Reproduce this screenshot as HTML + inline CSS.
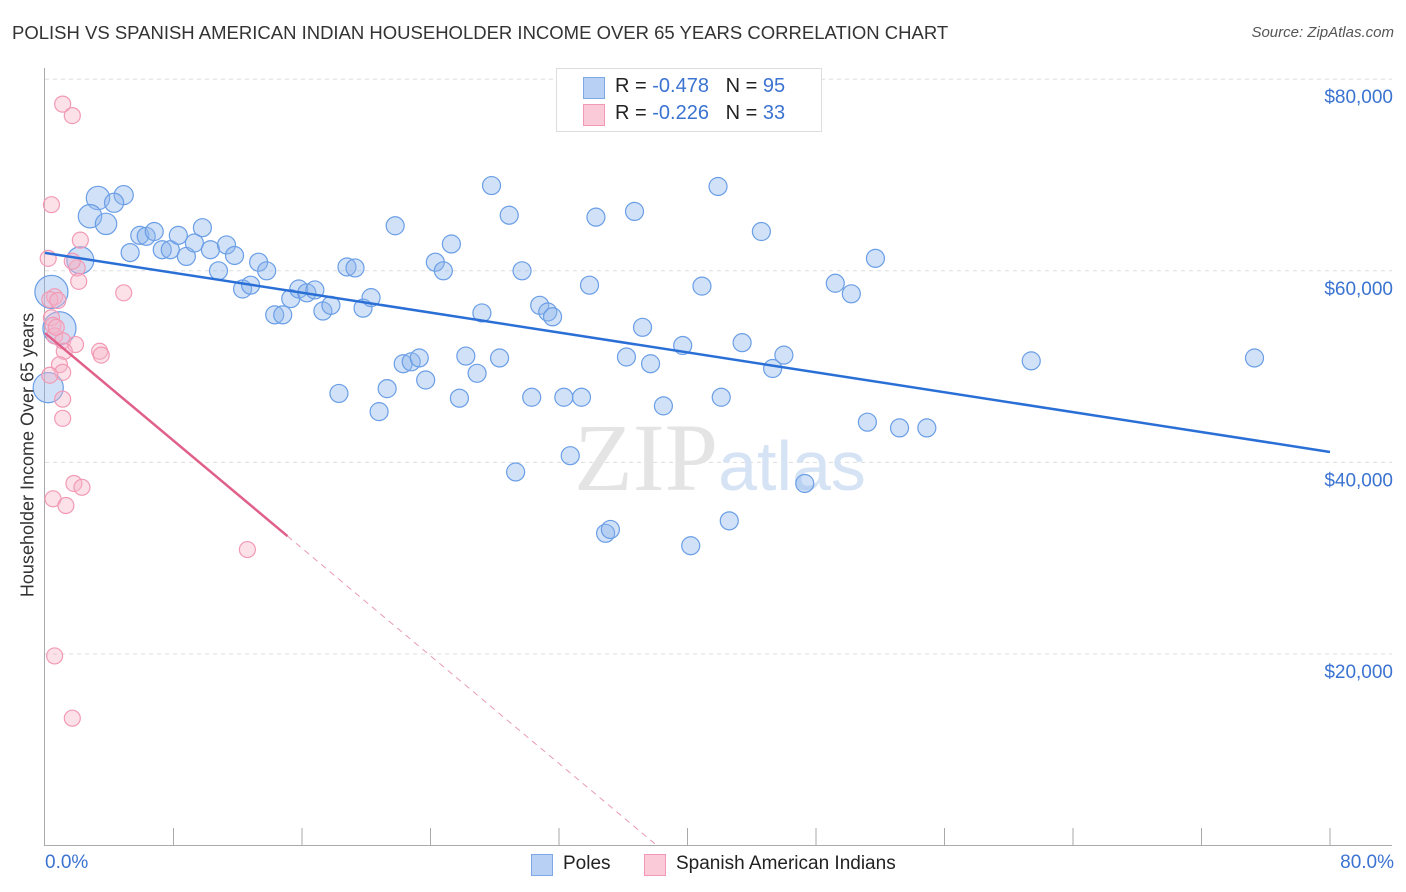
<!DOCTYPE html>
<html><head><meta charset="utf-8">
<style>
body{margin:0;background:#fff;font-family:"Liberation Sans",sans-serif;}
#wrap{position:relative;width:1406px;height:892px;overflow:hidden;}
.t{position:absolute;white-space:nowrap;}
</style></head>
<body>
<div id="wrap">
<div class="t" style="left:12px;top:22px;font-size:18.5px;color:#333;">POLISH VS SPANISH AMERICAN INDIAN HOUSEHOLDER INCOME OVER 65 YEARS CORRELATION CHART</div>
<div class="t" style="right:12px;top:24px;font-size:15px;color:#555;font-style:italic;">Source: ZipAtlas.com</div>
<svg id="svg" width="1406" height="892" style="position:absolute;left:0;top:0"></svg>
</div>
<script>
const blueX=[3.3,2.8,4.9,4.3,3.8,2.2,0.4,0.9,0.2,5.3,5.9,6.3,6.8,7.3,7.8,8.3,8.8,9.3,9.8,10.3,10.8,11.3,11.8,12.3,12.8,13.3,13.8,14.3,14.8,15.3,15.8,16.3,16.8,17.3,17.8,18.3,18.8,19.3,19.8,20.3,20.8,21.3,21.8,22.3,22.8,23.3,23.7,24.3,24.8,25.3,25.8,26.2,26.9,27.2,27.8,28.3,28.9,29.3,29.7,30.3,30.8,31.3,31.6,32.3,32.7,33.4,33.9,34.3,34.9,35.2,36.2,36.7,37.2,37.7,38.5,39.7,40.2,40.9,41.9,42.1,42.6,43.4,44.6,45.3,46.0,47.3,49.2,50.2,51.2,51.7,53.2,54.9,61.4,75.3];
const blueY=[67600,65700,67900,67100,64900,61100,57800,54000,47800,61900,63700,63600,64100,62200,62200,63700,61500,62900,64500,62200,60000,62700,61600,58100,58500,60900,60000,55400,55400,57100,58100,57700,58000,55800,56400,47200,60400,60300,56100,57200,45300,47700,64700,50300,50500,50900,48600,60900,60000,62800,46700,51100,49300,55600,68900,50900,65800,39000,60000,46800,56400,55700,55200,46800,40700,46800,58500,65600,32600,33000,51000,66200,54100,50300,45900,52200,31300,58400,68800,46800,33900,52500,64100,49800,51200,37800,58700,57600,44200,61300,43600,43600,50600,50900];
const blueW=[3,3,2,2,2.5,4,6,6,5];
const pinkX=[1.1,1.7,0.4,2.2,0.2,2.0,1.7,2.1,4.9,0.6,0.3,0.8,0.4,0.5,0.6,1.1,1.9,1.2,3.4,3.5,0.9,1.1,0.3,1.1,1.1,1.8,2.3,0.5,1.3,12.6,0.6,1.7,0.7];
const pinkY=[77400,76200,66900,63200,61300,60300,61000,58900,57700,57300,57000,56900,55100,54300,53200,52700,52300,51600,51600,51200,50200,49400,49100,46600,44600,37800,37400,36200,35500,30900,19800,13300,54100];
const yTicks=[20000,40000,60000,80000];
const yTickLabels=["$20,000","$40,000","$60,000","$80,000"];
const blueFit=[61870,41090];
const pinkFit=[53500,-1404];

const X0=45,X1=1330,Y0=845.6,YS=191.6/20000;
const sx=v=>X0+(v/80)*(X1-X0);
const sy=v=>Y0-v*YS;
const NS="http://www.w3.org/2000/svg";
const svg=document.getElementById('svg');
function mk(t,a,p){const e=document.createElementNS(NS,t);for(const k in a)e.setAttribute(k,a[k]);(p||svg).appendChild(e);return e;}

yTicks.forEach((v,i)=>{
 const g=mk('line',{x1:45,x2:1392,y1:sy(v),y2:sy(v),stroke:'#ddd','stroke-dasharray':'4,4'});
 
 
 const t=mk('text',{x:1393,y:sy(v)+24,'text-anchor':'end','font-size':19,fill:'#3b73d1','font-family':'Liberation Sans'});
 t.textContent=yTickLabels[i];
 
 
});
const ax=mk('line',{x1:44.5,x2:44.5,y1:68,y2:846,stroke:'#aaa'});


const bx=mk('line',{x1:45,x2:1392,y1:845.5,y2:845.5,stroke:'#aaa'});


for(let i=1;i<=10;i++){
 const tk=mk('line',{x1:sx(i*8),x2:sx(i*8),y1:828,y2:846,stroke:'#aaa'});
 
 
}
const wm=mk('text',{x:720,y:490,'text-anchor':'middle','font-size':96,fill:'#e4e4e4','font-family':'Liberation Serif'});
wm.innerHTML='ZIP<tspan font-family="Liberation Sans" font-size="70" fill="#d5e3f5">atlas</tspan>';



blueX.forEach((x,i)=>{
 const r=9*(blueW[i]?Math.sqrt(blueW[i])*0.75:1);
 const c=mk('circle',{cx:sx(x),cy:sy(blueY[i]),r:Math.max(9,r),fill:'rgba(140,180,235,0.4)',stroke:'#6a9ee6','stroke-width':1.2});
 
 
});
pinkX.forEach((x,i)=>{
 const c=mk('circle',{cx:sx(x),cy:sy(pinkY[i]),r:8,fill:'rgba(248,180,200,0.4)',stroke:'#f29ab5','stroke-width':1.2});
 
 
});
const bl=mk('line',{x1:sx(0),y1:sy(blueFit[0]),x2:sx(80),y2:sy(blueFit[1]),stroke:'#2a6fd6','stroke-width':2.5});


const pEnd=15.1, pZero=-pinkFit[0]/pinkFit[1];
const pl=mk('line',{x1:sx(0),y1:sy(pinkFit[0]),x2:sx(pEnd),y2:sy(pinkFit[0]+pinkFit[1]*pEnd),stroke:'#e0608a','stroke-width':2.5});


const pd=mk('line',{x1:sx(pEnd),y1:sy(pinkFit[0]+pinkFit[1]*pEnd),x2:sx(pZero),y2:sy(0),stroke:'#e89ab2','stroke-width':1,'stroke-dasharray':'6,5'});


</script>
<div class="t" style="left:28px;top:455px;font-size:18px;color:#333;transform:translate(-50%,-50%) rotate(-90deg);">Householder Income Over 65 years</div>
<div class="t" style="left:45px;top:852px;font-size:19px;color:#3b73d1;">0.0%</div>
<div class="t" style="right:12px;top:852px;font-size:19px;color:#3b73d1;">80.0%</div>
<div style="position:absolute;left:556px;top:68px;width:264px;height:62px;border:1px solid #ddd;background:#fff;font-size:20px;color:#222;">
 <div style="position:absolute;left:26px;top:8px;width:20px;height:20px;background:#b8d0f4;border:1px solid #7fa8e6;"></div>
 <div class="t" style="left:58px;top:6px;">R = <span style="color:#3b73d1">-0.478</span>&nbsp;&nbsp;&nbsp;N = <span style="color:#3b73d1">95</span></div>
 <div style="position:absolute;left:26px;top:35px;width:20px;height:20px;background:#fbcad8;border:1px solid #f29ab5;"></div>
 <div class="t" style="left:58px;top:33px;">R = <span style="color:#3b73d1">-0.226</span>&nbsp;&nbsp;&nbsp;N = <span style="color:#3b73d1">33</span></div>
</div>
<div style="position:absolute;left:531px;top:853px;font-size:19px;color:#222;">
 <div style="position:absolute;left:0;top:1px;width:20px;height:20px;background:#b8d0f4;border:1px solid #7fa8e6;"></div>
 <div class="t" style="left:32px;top:0;">Poles</div>
</div>
<div style="position:absolute;left:644px;top:853px;font-size:19px;color:#222;">
 <div style="position:absolute;left:0;top:1px;width:20px;height:20px;background:#fbcad8;border:1px solid #f29ab5;"></div>
 <div class="t" style="left:32px;top:0;">Spanish American Indians</div>
</div>
</body></html>
